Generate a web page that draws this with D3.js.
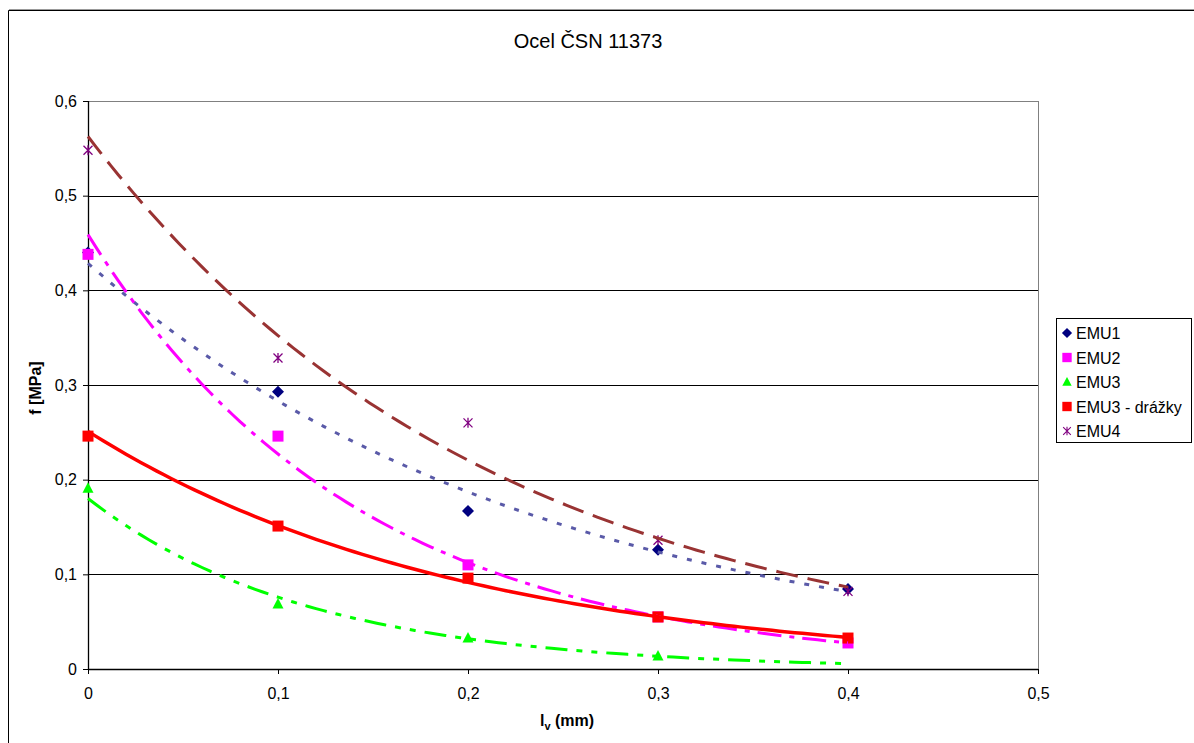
<!DOCTYPE html>
<html>
<head>
<meta charset="utf-8">
<script src="https://cdn.jsdelivr.net/npm/d3@7"></script>
<style>
  body { margin: 0; background: #fff; }
  text { font-family: "Liberation Sans", Arial, sans-serif; fill: #000; }
</style>
</head>
<body>
<div id="chart"></div>
<script>
// data
var xValues = [0, 0.1, 0.2, 0.3, 0.4];
var emu1 = [0.44, 0.293, 0.167, 0.126, 0.0845];
var emu2 = [0.438, 0.246, 0.110, 0.055, 0.0275];
var emu3 = [0.191, 0.0687, 0.0327, 0.0137, null];
var emu3d = [0.246, 0.151, 0.096, 0.055, 0.0327];
var emu4 = [0.548, 0.3285, 0.260, 0.136, 0.082];
var seriesNames = ["EMU1", "EMU2", "EMU3", "EMU3 - drážky", "EMU4"];
var xTicks = [0, 0.1, 0.2, 0.3, 0.4, 0.5];
var yTicks = [0, 0.1, 0.2, 0.3, 0.4, 0.5, 0.6];

var svgWidth = 1194, svgHeight = 743;
var margin = {top: 101, right: 156, bottom: 74, left: 88};
var width = 1038 - margin.left,
    height = 669 - margin.top;

var x = d3.scaleLinear().domain([0, 0.5]).range([0, width]);
var y = d3.scaleLinear().domain([0, 0.6]).range([height, 0]);
var fmt = function(d) { return String(d).replace(".", ","); };

var svg = d3.select("#chart").append("svg")
    .attr("width", svgWidth)
    .attr("height", svgHeight);

// outer chart border (runs off the bottom/right of the picture)
svg.append("path")
    .attr("d", "M8.5," + svgHeight + "V10.5H" + svgWidth)
    .attr("fill", "none").attr("stroke", "#000");
svg.append("line").attr("x1", 9).attr("x2", svgWidth).attr("y1", 9.5).attr("y2", 9.5)
    .attr("stroke", "#999");

svg.append("text")
    .attr("x", 588).attr("y", 48)
    .attr("text-anchor", "middle")
    .style("font-size", "20px")
    .text("Ocel ČSN 11373");

var g = svg.append("g")
    .attr("transform", "translate(" + margin.left + "," + margin.top + ")");

// gridlines
g.selectAll(".grid").data(yTicks.slice(1)).enter().append("line")
    .attr("x1", 0).attr("x2", width)
    .attr("y1", function(d) { return Math.round(y(d)) + 0.5; })
    .attr("y2", function(d) { return Math.round(y(d)) + 0.5; })
    .attr("stroke", function(d) { return d === 0.6 ? "#808080" : "#000"; });
// right border of plot area
g.append("line").attr("x1", width + 0.5).attr("x2", width + 0.5)
    .attr("y1", 0).attr("y2", height).attr("stroke", "#808080");

// axes
var xAxis = d3.axisBottom(x).tickValues(xTicks).tickFormat(fmt).tickSize(5).tickPadding(14);
var yAxis = d3.axisLeft(y).tickValues(yTicks).tickFormat(fmt).tickSize(5).tickPadding(6);

var gx = g.append("g").attr("transform", "translate(0," + height + ")").call(xAxis);
var gy = g.append("g").call(yAxis);
[gx, gy].forEach(function(a) {
  a.select(".domain").attr("stroke", "#000").attr("stroke-width", 1.3);
  a.selectAll(".tick line").attr("stroke", "#000");
  a.selectAll(".tick text").style("font-size", "16px").attr("font-family", null);
});
gx.select(".domain").attr("d", "M0,0.5H" + width);
gy.select(".domain").attr("d", "M0.5," + height + "V0");
gx.selectAll(".tick line").attr("y1", 0);

// axis titles
var xl = svg.append("text")
    .attr("x", 567).attr("y", 726)
    .attr("text-anchor", "middle")
    .style("font-size", "16px").style("font-weight", "bold");
xl.append("tspan").text("l");
xl.append("tspan").attr("dy", 4).style("font-size", "11px").text("v");
xl.append("tspan").attr("dy", -4).text(" (mm)");

svg.append("text")
    .attr("transform", "translate(41,388) rotate(-90)")
    .attr("text-anchor", "middle")
    .style("font-size", "16px").style("font-weight", "bold")
    .text("f [MPa]");

// exponential trendline (least squares on ln y), like the spreadsheet does
function expFit(vals) {
  var pts = xValues.map(function(d, i) { return [d, vals[i]]; })
    .filter(function(p) { return p[1] != null; });
  var mx = d3.mean(pts, function(p) { return p[0]; });
  var my = d3.mean(pts, function(p) { return Math.log(p[1]); });
  var sxy = d3.sum(pts, function(p) { return (p[0] - mx) * (Math.log(p[1]) - my); });
  var sxx = d3.sum(pts, function(p) { return (p[0] - mx) * (p[0] - mx); });
  var b = sxy / sxx, a = Math.exp(my - b * mx);
  return function(t) { return a * Math.exp(b * t); };
}

var series = [
  {name: seriesNames[0], values: emu1, color: "#000080", trend: "#5a5aa8", dash: "5,10", w: 3, marker: "diamond"},
  {name: seriesNames[1], values: emu2, color: "#ff00ff", trend: "#ff00ff", dash: "24,8,5,8", w: 3, marker: "square"},
  {name: seriesNames[2], values: emu3, color: "#00ff00", trend: "#00ff00", dash: "22,9,6,9,6,9", w: 3, marker: "triangle"},
  {name: seriesNames[3], values: emu3d, color: "#ff0000", trend: "#ff0000", dash: null, w: 3.5, marker: "square"},
  {name: seriesNames[4], values: emu4, color: "#800080", trend: "#993333", dash: "22,10", w: 3, marker: "star"}
];

var line = d3.line().x(function(d) { return x(d[0]); }).y(function(d) { return y(d[1]); });
var steps = d3.range(0, 101).map(function(i) { return 0.4 * i / 100; });

function drawMarker(sel, kind, color) {
  if (kind === "diamond") {
    sel.append("path").attr("d", "M0,-6L6,0L0,6L-6,0Z").attr("fill", color);
  } else if (kind === "square") {
    sel.append("rect").attr("x", -5.5).attr("y", -5.5).attr("width", 11).attr("height", 11).attr("fill", color);
  } else if (kind === "triangle") {
    sel.append("path").attr("d", "M0,-6L5.5,4.5L-5.5,4.5Z").attr("fill", color);
  } else {
    sel.append("path").attr("d", "M-4.5,-4.5L4.5,4.5M-4.5,4.5L4.5,-4.5M0,-5V5")
      .attr("stroke", color).attr("stroke-width", 1.3).attr("fill", "none");
  }
}

// markers first, trendlines over them
series.forEach(function(s) {
  s.values.forEach(function(v, i) {
    if (v == null) return;
    var m = g.append("g").attr("transform", "translate(" + x(xValues[i]) + "," + y(v) + ")");
    drawMarker(m, s.marker, s.color);
  });
});
series.forEach(function(s) {
  var f = expFit(s.values);
  g.append("path")
    .datum(steps.map(function(t) { return [t, f(t)]; }))
    .attr("d", line)
    .attr("fill", "none")
    .attr("stroke", s.trend)
    .attr("stroke-width", s.w)
    .attr("stroke-dasharray", s.dash);
});

// legend
var lg = svg.append("g").attr("transform", "translate(1056,318)");
lg.append("rect").attr("x", 0.5).attr("y", 0.5).attr("width", 135).attr("height", 124)
  .attr("fill", "#fff").attr("stroke", "#000");
series.forEach(function(s, i) {
  var row = lg.append("g").attr("transform", "translate(0," + (15 + i * 24.5) + ")");
  var m = row.append("g").attr("transform", "translate(11,0) scale(0.85)");
  drawMarker(m, s.marker, s.color);
  row.append("text").attr("x", 20).attr("y", 6).style("font-size", "16px").text(s.name);
});
</script>
</body>
</html>
